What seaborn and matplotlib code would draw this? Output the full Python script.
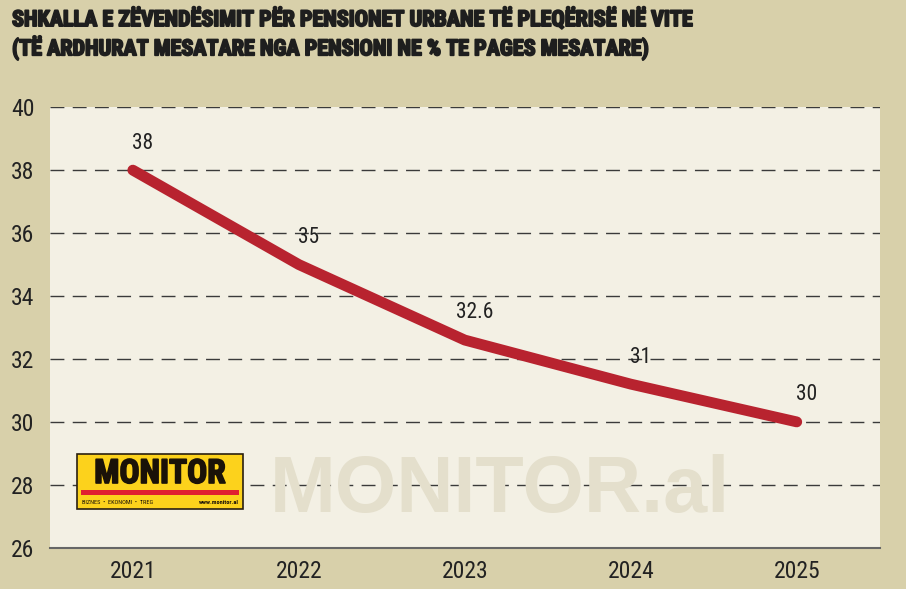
import matplotlib
matplotlib.use("Agg")
import matplotlib.pyplot as plt
import matplotlib.patheffects as pe
import seaborn as sns
import pandas as pd
from matplotlib import font_manager
from matplotlib.patches import Rectangle

# data
years = ["2021", "2022", "2023", "2024", "2025"]
values = [38, 35, 32.6, 31.2, 30]
labels = ["38", "35", "32.6", "31", "30"]
yticks = [26, 28, 30, 32, 34, 36, 38, 40]

title1 = "SHKALLA E ZËVENDËSIMIT PËR PENSIONET URBANE TË PLEQËRISË NË VITE"
title2 = "(TË ARDHURAT MESATARE NGA PENSIONI NE % TE PAGES MESATARE)"

df = pd.DataFrame({"year": years, "value": values})

sns.set_style("white")
names = {f.name for f in font_manager.fontManager.ttflist}
narrow = [n for n in ["Liberation Sans Narrow", "DejaVu Sans Condensed", "Roboto Condensed"] if n in names]
plt.rcParams["font.family"] = narrow + ["DejaVu Sans"]
plt.rcParams["font.stretch"] = "condensed"

outer = "#d8d0aa"
inner = "#f3f0e4"
red = "#b8232f"

fig = plt.figure(figsize=(9.06, 5.89), dpi=100, facecolor=outer)
ax = fig.add_axes([0.055, 0.070, 0.916, 0.748])
ax.set_facecolor(inner)

sns.lineplot(data=df, x="year", y="value", color=red, linewidth=7.8,
             solid_capstyle="round", sort=False, ax=ax, zorder=5)

for i, (v, lab) in enumerate(zip(values, labels)):
    ax.annotate(lab, (i, v), xytext=(7, 19.5), textcoords="offset points",
                ha="center", va="center", fontsize=15.5, color="#222222")

ax.set_xlim(-0.5, 4.5)
ax.set_ylim(26, 40)
ax.set_yticks(yticks)
ax.set_yticklabels([str(t) for t in yticks])
for t in yticks[1:]:
    ax.axhline(t, color="#3a3a3a", linewidth=1.0, linestyle=(0, (10, 6)), zorder=2)

ax.tick_params(axis="both", length=0, labelsize=17, colors="#222222")
ax.tick_params(axis="y", pad=11)
ax.tick_params(axis="x", pad=9)
ax.set_xlabel("")
ax.set_ylabel("")
for s in ["top", "left", "right"]:
    ax.spines[s].set_visible(False)
ax.spines["bottom"].set_color("#666666")
ax.spines["bottom"].set_linewidth(1.5)

# watermark
fig.text(270 / 906, 1 - 512 / 589, "MONITOR.al", fontsize=57, fontweight="bold",
         fontstretch="normal", va="baseline",
         family=["Liberation Sans", "DejaVu Sans"], color="#e4dfcc", zorder=1)

# logo
fig.patches.append(Rectangle((77 / 906, 1 - 509 / 589), 166 / 906, 55 / 589,
                             transform=fig.transFigure, facecolor="#fcd21c",
                             edgecolor="#2a2010", linewidth=1.2, zorder=3))
fig.patches.append(Rectangle((81 / 906, 1 - 495 / 589), 158 / 906, 5 / 589,
                             transform=fig.transFigure, facecolor="#e02030",
                             edgecolor="none", zorder=4))
fig.text(160 / 906, 1 - 474 / 589, "MONITOR", fontsize=24, fontweight="bold",
         ha="center", va="center", color="#1a1208", zorder=5,
         path_effects=[pe.withStroke(linewidth=1.2, foreground="#1a1208")])
fig.text(82 / 906, 1 - 503 / 589, "BIZNES  •  EKONOMI  •  TREG", fontsize=4.5,
         ha="left", va="center", color="#1a1208", zorder=5)
fig.text(239 / 906, 1 - 503 / 589, "www.monitor.al", fontsize=4.5,
         fontweight="bold", ha="right", va="center", color="#1a1208", zorder=5)

heavy = [pe.withStroke(linewidth=1.3, foreground="#1e1e1e")]
t1 = fig.text(12 / 906, 1 - 20 / 589, title1, fontsize=17, fontweight="bold",
              ha="left", va="center", color="#1e1e1e", path_effects=heavy)
t2 = fig.text(12 / 906, 1 - 48 / 589, title2, fontsize=17, fontweight="bold",
              ha="left", va="center", color="#1e1e1e", path_effects=heavy)

# shrink the title so it spans the same width as in the original
renderer = fig.canvas.get_renderer()
w = t1.get_window_extent(renderer).width
size = 17 * min(1.0, 683 / w)
t1.set_fontsize(size)
t2.set_fontsize(size)

fig.savefig("out.png", dpi=100, facecolor=outer)
